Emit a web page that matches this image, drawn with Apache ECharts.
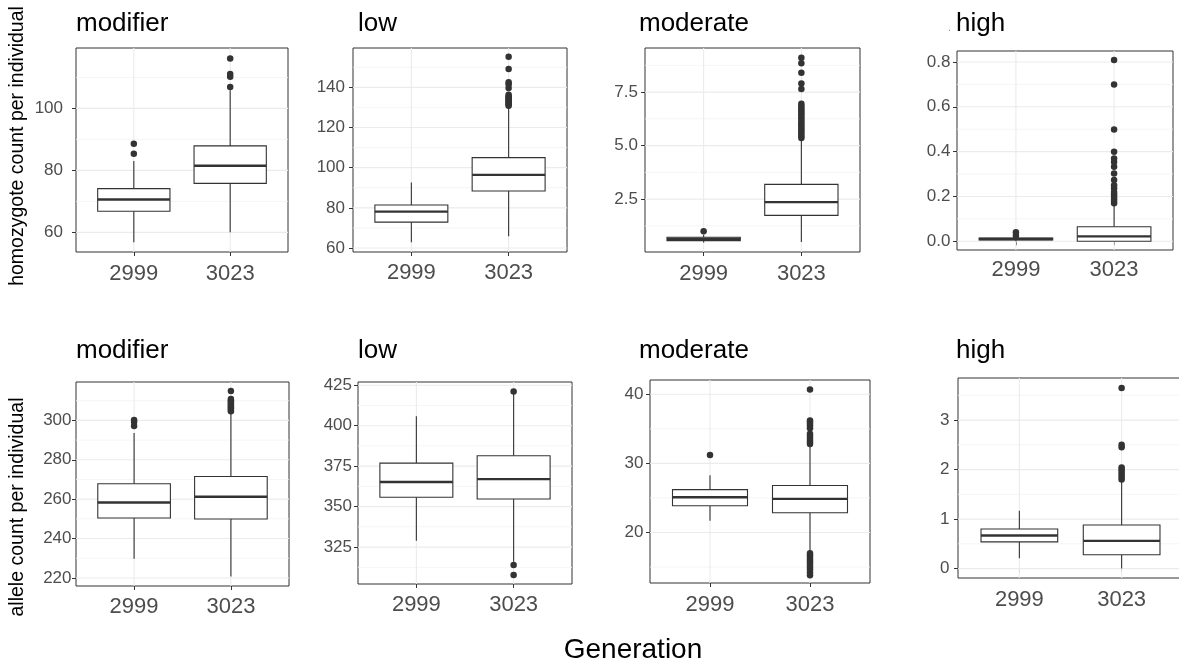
<!DOCTYPE html>
<html>
<head>
<meta charset="utf-8">
<script src="https://cdn.jsdelivr.net/npm/echarts@6/dist/echarts.min.js"></script>
<style>
  html, body { margin: 0; padding: 0; background: #ffffff; }
  #chart { width: 1179px; height: 663px; }
</style>
</head>
<body>
<div id="chart"></div>
<script>
// ---- data ----------------------------------------------------------------
const generations = ['2999', '3023'];
const impactClasses = ['modifier', 'low', 'moderate', 'high'];

// box summaries per generation: [lower whisker, Q1, median, Q3, upper whisker]
// homozygote count per individual
const homModifierBox = [[56.8, 66.8, 70.6, 74.1, 83.0], [60.0, 75.8, 81.5, 87.9, 105.9]];
const homLowBox = [[62.8, 72.9, 78.1, 81.4, 92.6], [65.8, 88.4, 96.4, 105.0, 130.3]];
const homModerateBox = [[0.47, 0.56, 0.64, 0.72, 0.84], [0.50, 1.74, 2.36, 3.19, 5.30]];
const homHighBox = [[0.0, 0.006, 0.010, 0.014, 0.020], [0.0, 0.0, 0.022, 0.065, 0.16]];

// outliers per generation
const homModifierOut = [[85.4, 88.6], [106.9, 110.2, 111.1, 116.1]];
const homLowOut = [[], [130.8, 131.4, 132.0, 132.6, 133.2, 133.8, 134.4, 135.0, 135.6, 136.3,
  139.7, 141.5, 142.5, 149.2, 155.2]];
const homModerateOut = [[1.0], [5.35, 5.45, 5.55, 5.65, 5.75, 5.85, 5.95, 6.05, 6.15, 6.25, 6.35,
  6.45, 6.55, 6.65, 6.75, 6.85, 6.95, 7.65, 7.9, 8.4, 8.85, 9.1]];
const homHighOut = [[0.025, 0.04], [0.17, 0.18, 0.19, 0.20, 0.21, 0.22, 0.236, 0.25, 0.273, 0.302,
  0.332, 0.354, 0.369, 0.399, 0.499, 0.699, 0.809]];

// allele count per individual
const alleleModifierBox = [[229.7, 250.4, 258.3, 267.8, 293.6], [220.7, 249.9, 261.2, 271.5, 304.1]];
const alleleLowBox = [[328.9, 355.8, 365.2, 376.9, 405.9], [316.0, 354.7, 367.0, 381.4, 420.5]];
const alleleModerateBox = [[21.7, 23.86, 25.1, 26.2, 28.3], [17.2, 22.85, 24.87, 26.8, 32.6]];
const alleleHighBox = [[0.21, 0.54, 0.67, 0.80, 1.17], [0.0, 0.28, 0.56, 0.88, 1.77]];

const alleleModifierOut = [[297.2, 299.2, 300.2], [304.6, 305.3, 306.0, 306.7, 307.4, 308.1, 308.8,
  309.5, 310.2, 310.9, 314.9]];
const alleleLowOut = [[], [307.8, 313.9, 421.2]];
const alleleModerateOut = [[31.2], [13.8, 14.2, 14.6, 14.9, 15.2, 15.5, 15.8, 16.1, 16.4, 16.7, 17.0,
  32.8, 33.1, 33.4, 33.7, 34.0, 34.3, 35.1, 35.4, 35.7, 36.0, 36.2, 40.7]];
const alleleHighOut = [[], [1.80, 1.85, 1.90, 1.95, 2.00, 2.04, 2.45, 2.50, 3.65]];

// y tick labels
const homModifierTicks = ['60', '80', '100'];
const homLowTicks = ['60', '80', '100', '120', '140'];
const homModerateTicks = ['2.5', '5.0', '7.5'];
const homHighTicks = ['0.0', '0.2', '0.4', '0.6', '0.8'];
const alleleModifierTicks = ['220', '240', '260', '280', '300'];
const alleleLowTicks = ['325', '350', '375', '400', '425'];
const alleleModerateTicks = ['20', '30', '40'];
const alleleHighTicks = ['0', '1', '2', '3'];

const yTitles = ['homozygote count per individual', 'allele count per individual'];
const xTitle = 'Generation';

// ---- layout & style -------------------------------------------------------
const FONT = '"Liberation Sans", Arial, Helvetica, sans-serif';
const INK = '#333333';
const BOX_WIDTH = 0.75;

const panelLayout = [
  { left: 76,  top: 48,  width: 212, height: 204, yMin: 53.65, yMax: 119.5, yGap: 13,  xGap: 11 },
  { left: 353, top: 48,  width: 214, height: 204, yMin: 58.0,  yMax: 159.6, yGap: 8,   xGap: 10 },
  { left: 645, top: 48,  width: 215, height: 204, yMin: 0.03,  yMax: 9.56,  yGap: 7,   xGap: 10.5 },
  { left: 957, top: 51,  width: 216, height: 199, yMin: -0.039, yMax: 0.849, yGap: 6.5, xGap: 9 },
  { left: 76,  top: 382, width: 213, height: 204, yMin: 215.9, yMax: 319.5, yGap: 4.5, xGap: 10 },
  { left: 358, top: 382, width: 214, height: 202, yMin: 302.2, yMax: 427.0, yGap: 6,   xGap: 9.5 },
  { left: 650, top: 380, width: 220, height: 203, yMin: 12.69, yMax: 42.07, yGap: 6.5, xGap: 10.5 },
  { left: 958, top: 378, width: 225, height: 200, yMin: -0.19, yMax: 3.85,  yGap: 8.5, xGap: 10.5 }
];
const titleX = [76, 358, 639, 956];
const titleBottom = [37, 364];

const panelData = [
  { box: homModifierBox, out: homModifierOut, ticks: homModifierTicks },
  { box: homLowBox, out: homLowOut, ticks: homLowTicks },
  { box: homModerateBox, out: homModerateOut, ticks: homModerateTicks },
  { box: homHighBox, out: homHighOut, ticks: homHighTicks },
  { box: alleleModifierBox, out: alleleModifierOut, ticks: alleleModifierTicks },
  { box: alleleLowBox, out: alleleLowOut, ticks: alleleLowTicks },
  { box: alleleModerateBox, out: alleleModerateOut, ticks: alleleModerateTicks },
  { box: alleleHighBox, out: alleleHighOut, ticks: alleleHighTicks }
];

// ---- build option ---------------------------------------------------------
const grids = [], xAxes = [], yAxes = [], series = [], graphics = [];
const genPositions = generations.map((g, i) => i + 1);

panelData.forEach((pd, p) => {
  const L = panelLayout[p];
  const tickVals = pd.ticks.map(Number);
  const step = tickVals[1] - tickVals[0];

  grids.push({
    left: L.left, top: L.top, width: L.width, height: L.height,
    show: true, borderColor: INK, borderWidth: 1, backgroundColor: 'transparent',
    containLabel: false, outerBoundsMode: 'none'
  });

  xAxes.push({
    type: 'value', gridIndex: p, min: 0.4, max: 2.6,
    axisLine: { show: false },
    splitLine: { show: false },
    axisTick: { show: true, customValues: genPositions, length: 4, lineStyle: { color: INK, width: 1 } },
    axisLabel: {
      customValues: genPositions, margin: L.xGap, fontSize: 22, color: '#4d4d4d', fontFamily: FONT,
      formatter: v => generations[Math.round(v) - 1] || ''
    }
  });

  yAxes.push({
    type: 'value', gridIndex: p, min: L.yMin, max: L.yMax,
    axisLine: { show: false },
    splitLine: { show: false },
    axisTick: { show: true, customValues: tickVals, length: 4, lineStyle: { color: INK, width: 1 } },
    axisLabel: {
      customValues: tickVals, margin: L.yGap, fontSize: 17, color: '#4d4d4d', fontFamily: FONT,
      formatter: v => {
        const i = tickVals.findIndex(t => Math.abs(t - v) < 1e-9);
        return i >= 0 ? pd.ticks[i] : '';
      }
    }
  });

  // grid lines: [kind, value] with kind 0 = major, 1 = minor (horizontal), 2 = vertical
  const gridLines = [];
  tickVals.forEach(t => gridLines.push([0, t]));
  for (let m = tickVals[0] - step / 2 - 10 * step; m < L.yMax; m += step) {
    if (m > L.yMin && m < L.yMax) gridLines.push([1, m]);
  }
  genPositions.forEach(g => gridLines.push([2, g]));

  series.push({
    type: 'custom', xAxisIndex: p, yAxisIndex: p, z: 1, silent: true,
    data: gridLines,
    encode: { x: -1, y: -1 },
    renderItem: (params, api) => {
      const cs = params.coordSys;
      const kind = api.value(0), val = api.value(1);
      if (kind === 2) {
        const x = api.coord([val, L.yMin])[0];
        return { type: 'line', shape: { x1: x, y1: cs.y, x2: x, y2: cs.y + cs.height },
          style: { stroke: '#ebebeb', lineWidth: 1.1 } };
      }
      const y = api.coord([1, val])[1];
      return { type: 'line', shape: { x1: cs.x, y1: y, x2: cs.x + cs.width, y2: y },
        style: { stroke: kind === 0 ? '#ebebeb' : '#f3f3f3', lineWidth: kind === 0 ? 1.1 : 0.8 } };
    }
  });

  // boxes
  series.push({
    type: 'custom', xAxisIndex: p, yAxisIndex: p, z: 2, silent: true,
    data: pd.box.map((b, i) => [genPositions[i]].concat(b)),
    encode: { x: 0, y: [1, 2, 3, 4, 5] },
    renderItem: (params, api) => {
      const x = api.value(0);
      const pLo = api.coord([x, api.value(1)]);
      const pQ1 = api.coord([x, api.value(2)]);
      const pMed = api.coord([x, api.value(3)]);
      const pQ3 = api.coord([x, api.value(4)]);
      const pHi = api.coord([x, api.value(5)]);
      const half = api.size([BOX_WIDTH, 0])[0] / 2;
      const line = { stroke: INK, lineWidth: 1.1 };
      return {
        type: 'group',
        children: [
          { type: 'line', shape: { x1: pLo[0], y1: pLo[1], x2: pQ1[0], y2: pQ1[1] }, style: line },
          { type: 'line', shape: { x1: pQ3[0], y1: pQ3[1], x2: pHi[0], y2: pHi[1] }, style: line },
          { type: 'rect', shape: { x: pQ3[0] - half, y: pQ3[1], width: 2 * half, height: pQ1[1] - pQ3[1] },
            style: { fill: '#ffffff', stroke: INK, lineWidth: 1.1 } },
          { type: 'line', shape: { x1: pMed[0] - half, y1: pMed[1], x2: pMed[0] + half, y2: pMed[1] },
            style: { stroke: INK, lineWidth: 2.4 } }
        ]
      };
    }
  });

  // outliers
  const pts = [];
  pd.out.forEach((vals, i) => vals.forEach(v => pts.push([genPositions[i], v])));
  series.push({
    type: 'scatter', xAxisIndex: p, yAxisIndex: p, z: 3, silent: true,
    symbol: 'circle', symbolSize: 6.5,
    itemStyle: { color: INK, opacity: 1 },
    data: pts
  });

  // facet title
  const row = p < 4 ? 0 : 1;
  graphics.push({
    type: 'text', x: titleX[p % 4], y: titleBottom[row], silent: true,
    style: { text: impactClasses[p % 4], font: '26px ' + FONT, fill: '#000000',
      textAlign: 'left', textVerticalAlign: 'bottom', verticalAlign: 'bottom' }
  });
});

// stray mark before the top "high" title
graphics.push({
  type: 'text', x: 948, y: titleBottom[0] - 4, silent: true,
  style: { text: '.', font: '10px ' + FONT, fill: '#888888', textVerticalAlign: 'bottom', verticalAlign: 'bottom' }
});

// axis titles
graphics.push({
  type: 'text', x: 18, y: 146, rotation: Math.PI / 2, silent: true,
  style: { text: yTitles[0], font: '19.5px ' + FONT, fill: '#000000',
    textAlign: 'center', align: 'center', textVerticalAlign: 'middle', verticalAlign: 'middle' }
});
graphics.push({
  type: 'text', x: 18, y: 507, rotation: Math.PI / 2, silent: true,
  style: { text: yTitles[1], font: '19.5px ' + FONT, fill: '#000000',
    textAlign: 'center', align: 'center', textVerticalAlign: 'middle', verticalAlign: 'middle' }
});
graphics.push({
  type: 'text', x: 633, y: 650, silent: true,
  style: { text: xTitle, font: '28px ' + FONT, fill: '#000000',
    textAlign: 'center', align: 'center', textVerticalAlign: 'middle', verticalAlign: 'middle' }
});

const chart = echarts.init(document.getElementById('chart'), null, { renderer: 'canvas' });
chart.setOption({
  animation: false,
  backgroundColor: '#ffffff',
  grid: grids,
  xAxis: xAxes,
  yAxis: yAxes,
  series: series,
  graphic: graphics
});
</script>
</body>
</html>
